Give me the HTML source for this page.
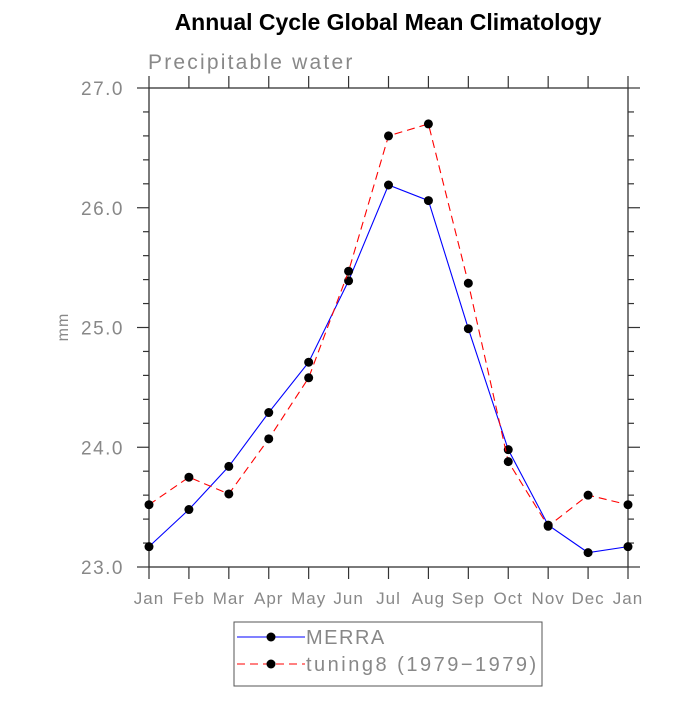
<!DOCTYPE html>
<html><head><meta charset="utf-8"><style>
body{margin:0;background:#fff}
svg text{font-family:"Liberation Sans",sans-serif}
</style></head><body>
<svg id="c" width="700" height="700" xmlns="http://www.w3.org/2000/svg">
<text x="388" y="30" text-anchor="middle" font-size="23" font-weight="bold">Annual Cycle Global Mean Climatology</text>
<text x="148" y="69" font-size="21" fill="#888" letter-spacing="2.2">Precipitable water</text>
<text transform="translate(68,327) rotate(-90)" text-anchor="middle" font-size="16" fill="#888" letter-spacing="1">mm</text>
<g id="axes"></g>
<g id="series"></g>
<g>
<rect x="234" y="622" width="308" height="64" fill="none" stroke="#555"/>
<g>
<line x1="237" y1="637" x2="305" y2="637" stroke="#00f"/><circle cx="271" cy="637" r="4.5" fill="#000"/>
<text x="306" y="644" font-size="20" fill="#888" letter-spacing="1.5">MERRA</text></g>
<g>
<line x1="237" y1="664" x2="305" y2="664" stroke="#f00" stroke-dasharray="8,5"/><circle cx="271" cy="664" r="4.5" fill="#000"/>
<text x="306" y="671" font-size="20" fill="#888" letter-spacing="2.5">tuning8 (1979−1979)</text></g>
</g>
</svg>
<script>
const months=["Jan","Feb","Mar","Apr","May","Jun","Jul","Aug","Sep","Oct","Nov","Dec","Jan"];
const merra=[23.17,23.48,23.84,24.29,24.71,25.39,26.19,26.06,24.99,23.98,23.35,23.12,23.17];
const tuning8=[23.52,23.75,23.61,24.07,24.58,25.47,26.60,26.70,25.37,23.88,23.34,23.60,23.52];
const yTicks=[23.0,24.0,25.0,26.0,27.0];
const NS="http://www.w3.org/2000/svg";
const L=149,R=628,T=88,B=567,y0=23,y1=27;
function X(i){return L+(R-L)*i/(months.length-1);}
function Y(v){return B-(B-T)*(v-y0)/(y1-y0);}
function mk(tag,a,p){const e=document.createElementNS(NS,tag);for(const k in a)e.setAttribute(k,a[k]);p.appendChild(e);return e;}
const ax=document.getElementById('axes');
const fr=mk('rect',{x:L,y:T,width:R-L,height:B-T,fill:'none',stroke:'#333','stroke-width':1.3},ax);


months.forEach((m,i)=>{const x=X(i);
mk('line',{x1:x,y1:B,x2:x,y2:B+12,stroke:'#333','stroke-width':1.2},ax);
mk('line',{x1:x,y1:T,x2:x,y2:T-12,stroke:'#333','stroke-width':1.2},ax);
const t=mk('text',{x:x,y:B+37,'text-anchor':'middle','font-size':17,fill:'#888','letter-spacing':1},ax);t.textContent=m;

});
for(let v=y0;v<=y1+1e-9;v+=0.2){const y=Y(v);const maj=Math.abs(v-Math.round(v))<1e-6;const len=maj?12:6;
mk('line',{x1:L,y1:y,x2:L-len,y2:y,stroke:'#333','stroke-width':1.2},ax);
mk('line',{x1:R,y1:y,x2:R+len,y2:y,stroke:'#333','stroke-width':1.2},ax);}
yTicks.forEach(v=>{const t=mk('text',{x:124,y:Y(v)+7,'text-anchor':'end','font-size':19,fill:'#888','letter-spacing':1.5},ax);t.textContent=v.toFixed(1);

});
const sg=document.getElementById('series');
function draw(data,color,dash,name){
const g=mk('g',{},sg);


const a={points:data.map((v,i)=>X(i)+','+Y(v)).join(' '),fill:'none',stroke:color,'stroke-width':1.1};if(dash)a['stroke-dasharray']=dash;
mk('polyline',a,g);
data.forEach((v,i)=>{const c=mk('circle',{cx:X(i),cy:Y(v),r:4.5,fill:'#000'},g);

});}
draw(merra,'#00f',null,'merra-series');
draw(tuning8,'#f00','8,5','tuning8-series');
</script>
</body></html>
